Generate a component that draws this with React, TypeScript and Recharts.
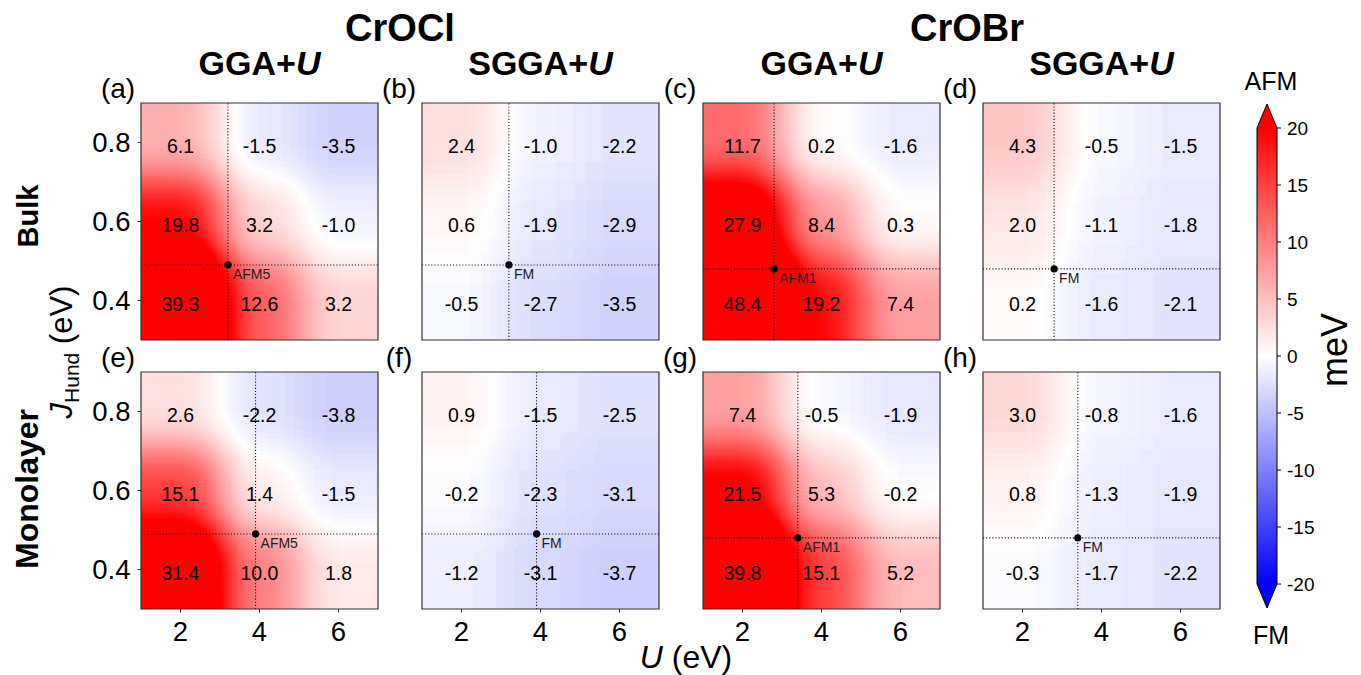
import {
  ScatterChart,
  Scatter,
  XAxis,
  YAxis,
  ReferenceLine,
  ReferenceArea,
  ComposedChart,
  Line,
} from "recharts";

// axes
const U_TICKS = [2, 4, 6];
const J_ROWS = [0.8, 0.6, 0.4]; // top to bottom
const CBAR_TICKS = [-20, -15, -10, -5, 0, 5, 10, 15, 20];

// E(AFM) - E(FM) style energy maps in meV, rows J = 0.8 / 0.6 / 0.4, cols U = 2 / 4 / 6
const crOClBulkGGA = [
  [6.1, -1.5, -3.5],
  [19.8, 3.2, -1.0],
  [39.3, 12.6, 3.2],
];
const crOClBulkSGGA = [
  [2.4, -1.0, -2.2],
  [0.6, -1.9, -2.9],
  [-0.5, -2.7, -3.5],
];
const crOBrBulkGGA = [
  [11.7, 0.2, -1.6],
  [27.9, 8.4, 0.3],
  [48.4, 19.2, 7.4],
];
const crOBrBulkSGGA = [
  [4.3, -0.5, -1.5],
  [2.0, -1.1, -1.8],
  [0.2, -1.6, -2.1],
];
const crOClMonoGGA = [
  [2.6, -2.2, -3.8],
  [15.1, 1.4, -1.5],
  [31.4, 10.0, 1.8],
];
const crOClMonoSGGA = [
  [0.9, -1.5, -2.5],
  [-0.2, -2.3, -3.1],
  [-1.2, -3.1, -3.7],
];
const crOBrMonoGGA = [
  [7.4, -0.5, -1.9],
  [21.5, 5.3, -0.2],
  [39.8, 15.1, 5.2],
];
const crOBrMonoSGGA = [
  [3.0, -0.8, -1.6],
  [0.8, -1.3, -1.9],
  [-0.3, -1.7, -2.2],
];

// ground state (U, J) marker per panel a..h
const GS_U = [3.2, 3.2, 2.8, 2.8, 3.9, 3.9, 3.4, 3.4];
const GS_J = [0.49, 0.49, 0.48, 0.48, 0.49, 0.49, 0.48, 0.48];
const GS_LABEL = ["AFM5", "FM", "AFM1", "FM", "AFM5", "FM", "AFM1", "FM"];

const PANEL_VALUES = [
  crOClBulkGGA,
  crOClBulkSGGA,
  crOBrBulkGGA,
  crOBrBulkSGGA,
  crOClMonoGGA,
  crOClMonoSGGA,
  crOBrMonoGGA,
  crOBrMonoSGGA,
];
const PANEL_LETTERS = ["a", "b", "c", "d", "e", "f", "g", "h"];
const COL_TITLES = ["GGA+", "SGGA+", "GGA+", "SGGA+"];

// layout
const FONT = '"Liberation Sans", Arial, "DejaVu Sans", sans-serif';
const PLOT = 237;
const ML = 64;
const MT = 10;
const MR = 10;
const XH = 46;
const CELL = PLOT / 3;
const EXT = 90;
const BLUR = 21;
const COL_X = [141, 422, 703, 983];
const ROW_Y = [103, 372];

// gray encoding of values, decoded to bwr (-20..20) inside the filter
const ENC_MIN = -20;
const ENC_MAX = 50;
const clamp = (v: number, a: number, b: number) => Math.min(b, Math.max(a, v));
const bwr = (v: number) => {
  const t = clamp(v / 20, -1, 1);
  return t >= 0 ? [1, 1 - t, 1 - t] : [1 + t, 1 + t, 1];
};
const encSteps: number[] = [];
for (let v = ENC_MIN; v <= ENC_MAX; v += 10) encSteps.push(v);
const tableFor = (ch: number) => encSteps.map((v) => bwr(v)[ch].toFixed(3)).join(" ");

function cellsOf(values: number[][]) {
  const out: { U: number; J: number; v: number; row: number; col: number }[] = [];
  values.forEach((r, ri) =>
    r.forEach((v, ci) => out.push({ U: U_TICKS[ci], J: J_ROWS[ri], v, row: ri, col: ci }))
  );
  return out;
}

function HeatCell(props: any) {
  const { cx, cy, payload } = props;
  if (cx == null || cy == null) return null;
  const l = payload.col === 0 ? EXT : 0;
  const r = payload.col === 2 ? EXT : 0;
  const t = payload.row === 0 ? EXT : 0;
  const b = payload.row === 2 ? EXT : 0;
  const g = Math.round(clamp((payload.v - ENC_MIN) / (ENC_MAX - ENC_MIN), 0, 1) * 255);
  return (
    <rect
      x={cx - CELL / 2 - l - 0.5}
      y={cy - CELL / 2 - t - 0.5}
      width={CELL + l + r + 1}
      height={CELL + t + b + 1}
      fill={`rgb(${g},${g},${g})`}
    />
  );
}

function ValueText(props: any) {
  const { cx, cy, payload } = props;
  if (cx == null || cy == null) return null;
  return (
    <text x={cx} y={cy} dy={10} textAnchor="middle" fontSize={19.5} fill="#000" fontFamily={FONT}>
      {payload.v.toFixed(1)}
    </text>
  );
}

function GroundState(props: any) {
  const { cx, cy, payload } = props;
  if (cx == null || cy == null) return null;
  return (
    <g>
      <circle cx={cx} cy={cy} r={3.6} fill="#000" />
      <text x={cx + 5} y={cy + 14.5} fontSize={14} fill="#222" fontFamily={FONT}>
        {payload.label}
      </text>
    </g>
  );
}

function Panel({ idx }: { idx: number }) {
  const col = idx % 4;
  const row = Math.floor(idx / 4);
  const cells = cellsOf(PANEL_VALUES[idx]);
  const gs = [{ U: GS_U[idx], J: GS_J[idx], label: GS_LABEL[idx] }];
  const tickStyle = { fill: "#000", fontSize: 27.5, fontFamily: FONT };
  return (
    <div style={{ position: "absolute", left: COL_X[col] - ML, top: ROW_Y[row] - MT }}>
      <ScatterChart
        width={ML + PLOT + MR}
        height={MT + PLOT + XH}
        margin={{ top: MT, right: MR, bottom: 0, left: 0 }}
      >
        <XAxis
          type="number"
          dataKey="U"
          domain={[1, 7]}
          ticks={U_TICKS}
          height={XH}
          axisLine={false}
          stroke="#333"
          tickSize={3.5}
          tickMargin={9}
          tick={row === 1 ? tickStyle : false}
        />
        <YAxis
          type="number"
          dataKey="J"
          domain={[0.3, 0.9]}
          ticks={J_ROWS}
          width={ML}
          axisLine={false}
          stroke="#333"
          tickSize={3.5}
          tickMargin={7}
          tick={col === 0 ? tickStyle : false}
          tickFormatter={(v: number) => v.toFixed(1)}
        />
        <Scatter className="heat" data={cells} shape={HeatCell} isAnimationActive={false} />
        <ReferenceLine x={GS_U[idx]} stroke="#111" strokeWidth={1.1} strokeDasharray="1.1 2" zIndex={700} />
        <ReferenceLine y={GS_J[idx]} stroke="#111" strokeWidth={1.1} strokeDasharray="1.1 2" zIndex={700} />
        <Scatter data={cells} shape={ValueText} isAnimationActive={false} zIndex={800} />
        <Scatter data={gs} shape={GroundState} isAnimationActive={false} zIndex={900} />
        <ReferenceArea
          x1={1}
          x2={7}
          y1={0.3}
          y2={0.9}
          fill="none"
          fillOpacity={0}
          stroke="#333"
          strokeWidth={1.2}
          ifOverflow="visible"
          zIndex={1000}
        />
      </ScatterChart>
    </div>
  );
}

function ColorbarShape(props: any) {
  const { x, y, width, height } = props;
  const tri = 24;
  const d = `M${x},${y} L${x + width / 2},${y - tri} L${x + width},${y} L${x + width},${y + height} L${x + width / 2},${y + height + tri} L${x},${y + height} Z`;
  return (
    <g>
      <defs>
        <linearGradient id="cbarGrad" gradientUnits="userSpaceOnUse" x1={0} y1={y} x2={0} y2={y + height}>
          <stop offset="0" stopColor="#ff0000" />
          <stop offset="0.5" stopColor="#ffffff" />
          <stop offset="1" stopColor="#0000ff" />
        </linearGradient>
      </defs>
      <path d={d} fill="url(#cbarGrad)" stroke="#000" strokeWidth={1} />
    </g>
  );
}

function Colorbar() {
  const data = CBAR_TICKS.map((v, i) => ({ i, v }));
  return (
    <div style={{ position: "absolute", left: 1257 - 5, top: 128 - 30 }}>
      <ComposedChart width={90} height={516} data={data} margin={{ top: 30, right: 0, bottom: 30, left: 5 }}>
        <XAxis dataKey="i" hide />
        <YAxis
          type="number"
          orientation="right"
          domain={[-20, 20]}
          ticks={CBAR_TICKS}
          width={65}
          axisLine={false}
          stroke="#000"
          tickSize={4}
          tickMargin={6}
          tick={{ fill: "#000", fontSize: 19, fontFamily: FONT }}
        />
        <Line dataKey="v" stroke="none" dot={false} isAnimationActive={false} />
        <ReferenceArea y1={-20} y2={20} shape={ColorbarShape} ifOverflow="visible" />
      </ComposedChart>
    </div>
  );
}

export default function App() {
  const colCenter = (c: number) => COL_X[c] + PLOT / 2;
  return (
    <div
      style={{
        position: "absolute",
        left: 0,
        top: 0,
        width: 1361,
        height: 675,
        overflow: "hidden",
        background: "#fff",
        fontFamily: FONT,
      }}
    >
      <style>{`.heat { filter: url(#heatFilter); clip-path: url(#heatClip); }`}</style>
      <svg width={0} height={0} style={{ position: "absolute" }}>
        <defs>
          <filter
            id="heatFilter"
            filterUnits="userSpaceOnUse"
            x={-400}
            y={-400}
            width={1200}
            height={1200}
            colorInterpolationFilters="sRGB"
          >
            <feGaussianBlur stdDeviation={BLUR} />
            <feComponentTransfer>
              <feFuncR type="table" tableValues={tableFor(0)} />
              <feFuncG type="table" tableValues={tableFor(1)} />
              <feFuncB type="table" tableValues={tableFor(2)} />
            </feComponentTransfer>
          </filter>
          <clipPath id="heatClip" clipPathUnits="userSpaceOnUse">
            <rect x={ML} y={MT} width={PLOT} height={PLOT} />
          </clipPath>
        </defs>
      </svg>

      {PANEL_VALUES.map((_, i) => (
        <Panel key={i} idx={i} />
      ))}
      <Colorbar />

      <svg
        width={1361}
        height={675}
        style={{ position: "absolute", left: 0, top: 0, pointerEvents: "none" }}
        fontFamily={FONT}
      >
        <text x={400} y={41} textAnchor="middle" fontSize={38} fontWeight="bold">
          CrOCl
        </text>
        <text x={967} y={41} textAnchor="middle" fontSize={38} fontWeight="bold">
          CrOBr
        </text>
        {COL_TITLES.map((t, c) => (
          <text key={c} x={colCenter(c)} y={75} textAnchor="middle" fontSize={34} fontWeight="bold">
            {t}
            <tspan fontStyle="italic">U</tspan>
          </text>
        ))}
        {PANEL_LETTERS.map((l, i) => (
          <text
            key={l}
            x={COL_X[i % 4] - 23}
            y={ROW_Y[Math.floor(i / 4)] - 5}
            textAnchor="middle"
            fontSize={28}
          >
            ({l})
          </text>
        ))}
        <text x={686} y={668} textAnchor="middle" fontSize={32}>
          <tspan fontStyle="italic">U</tspan> (eV)
        </text>
        <text x={72} y={352} textAnchor="middle" fontSize={31} transform="rotate(-90 72 352)">
          <tspan fontStyle="italic">J</tspan>
          <tspan fontSize={21} dy={7}>
            Hund
          </tspan>
          <tspan dy={-7}> (eV)</tspan>
        </text>
        <text x={38} y={216} textAnchor="middle" fontSize={29} fontWeight="bold" transform="rotate(-90 38 216)">
          Bulk
        </text>
        <text x={38} y={489} textAnchor="middle" fontSize={32} fontWeight="bold" transform="rotate(-90 38 489)">
          Monolayer
        </text>
        <text x={1271} y={90} textAnchor="middle" fontSize={25}>
          AFM
        </text>
        <text x={1271} y={644} textAnchor="middle" fontSize={25}>
          FM
        </text>
        <text x={1347} y={350} textAnchor="middle" fontSize={36} transform="rotate(-90 1347 350)">
          meV
        </text>
      </svg>
    </div>
  );
}
